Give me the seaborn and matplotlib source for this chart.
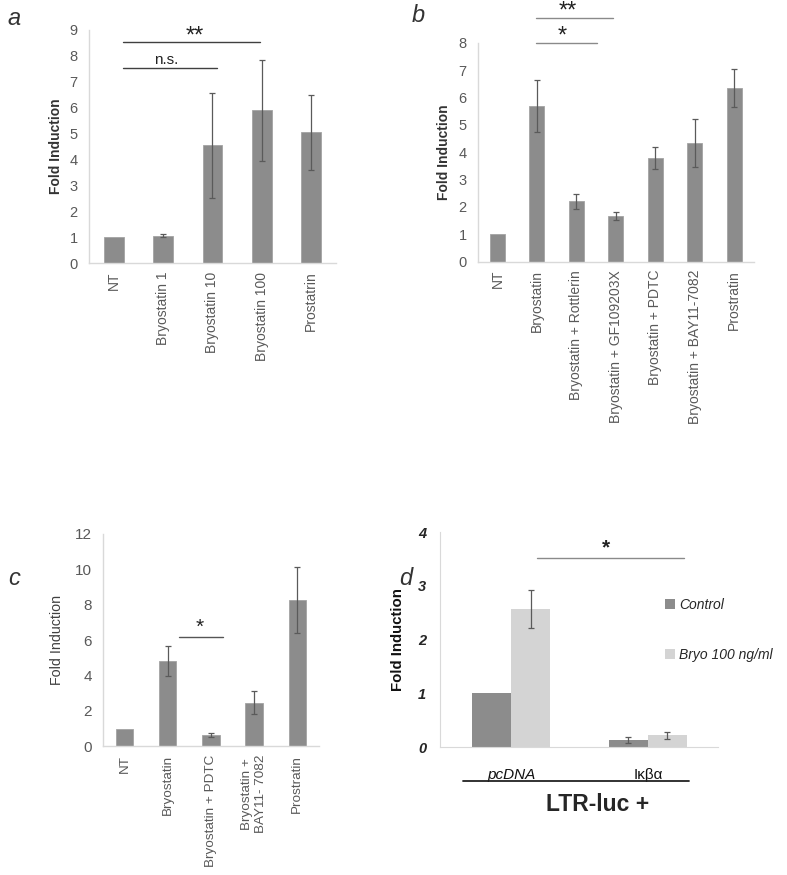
import numpy as np
import pandas as pd
import matplotlib
matplotlib.use("Agg")
import matplotlib.pyplot as plt
import seaborn as sns
from matplotlib.patches import Patch
from matplotlib.lines import Line2D

# --- данные ---
labels_a = ["NT", "Bryostatin 1", "Bryostatin 10", "Bryostatin 100", "Prostatrin"]
values_a = [1.0, 1.07, 4.55, 5.9, 5.05]
errors_a = [0.0, 0.05, 2.02, 1.95, 1.45]

labels_b = ["NT", "Bryostatin", "Bryostatin + Rottlerin", "Bryostatin + GF109203X",
            "Bryostatin + PDTC", "Bryostatin + BAY11-7082", "Prostratin"]
values_b = [1.0, 5.7, 2.2, 1.67, 3.8, 4.33, 6.35]
errors_b = [0.0, 0.95, 0.27, 0.13, 0.4, 0.87, 0.7]

labels_c = ["NT", "Bryostatin", "Bryostatin + PDTC", "Bryostatin +\nBAY11- 7082", "Prostratin"]
values_c = [1.0, 4.8, 0.65, 2.45, 8.25]
errors_c = [0.0, 0.85, 0.12, 0.65, 1.85]

groups_d = ["pcDNA", "Iκβα"]
treatments_d = ["Control", "Bryo 100 ng/ml"]
values_control_d = [1.0, 0.13]
values_bryo_d = [2.57, 0.22]
errors_control_d = [0.0, 0.06]
errors_bryo_d = [0.35, 0.06]

BAR = "#8c8c8c"
BAR_LIGHT = "#d4d4d4"
SPINE = "#d9d9d9"
TICK = "#595959"
ERR = "#5a5a5a"

sns.set_style("white")
plt.rcParams['font.family'] = ['Liberation Sans', 'DejaVu Sans']

fig = plt.figure(figsize=(7.87, 8.75), dpi=100)
ax_a = fig.add_axes([0.113, 0.699, 0.314, 0.267])
ax_b = fig.add_axes([0.607, 0.701, 0.351, 0.250])
ax_c = fig.add_axes([0.131, 0.147, 0.274, 0.243])
ax_d = fig.add_axes([0.559, 0.146, 0.353, 0.246])


def errbars(ax, xs, values, errors):
    xs = np.asarray(xs, dtype=float)
    err = np.asarray(errors, dtype=float)
    mask = err > 0
    ax.errorbar(xs[mask], np.asarray(values)[mask], yerr=err[mask], fmt="none",
                ecolor=ERR, elinewidth=0.9, capsize=2.5, capthick=0.9)


def simple_bars(ax, labels, values, errors, width, ymax, ystep, ytick_size, xtick_size, ylab_kw):
    df = pd.DataFrame({"cond": labels, "val": values})
    sns.barplot(data=df, x="cond", y="val", color=BAR, width=width, errorbar=None,
                saturation=1, edgecolor="#a3a3a3", linewidth=0.6, ax=ax)
    errbars(ax, np.arange(len(labels)), values, errors)
    ax.set_xlim(-0.5, len(labels) - 0.5)
    ax.set_ylim(0, ymax)
    ax.set_yticks(np.arange(0, ymax + 0.01, ystep))
    ax.set_xlabel("")
    ax.set_ylabel("Fold Induction", **ylab_kw)
    ax.tick_params(axis="x", rotation=90, labelsize=xtick_size, colors=TICK, length=0, pad=6)
    ax.tick_params(axis="y", labelsize=ytick_size, colors=TICK, length=0, pad=8)
    for s in ["top", "right"]:
        ax.spines[s].set_visible(False)
    for s in ["left", "bottom"]:
        ax.spines[s].set_color(SPINE)
        ax.spines[s].set_linewidth(1.0)


def sig(ax, x0, x1, y, text, tx, ty, color, size, weight="normal"):
    ax.plot([x0, x1], [y, y], color=color, lw=1.0, clip_on=False)
    ax.text(tx, ty, text, ha="center", va="center", fontsize=size, fontweight=weight,
            color="#222222", clip_on=False)


# --- a ---
simple_bars(ax_a, labels_a, values_a, errors_a, 0.4, 9, 1, 10.5, 10,
            dict(fontsize=10, fontweight="bold", color="#333333", labelpad=5))
sig(ax_a, 0.18, 2.97, 8.53, "**", 1.65, 8.75, "#404040", 17)
sig(ax_a, 0.18, 2.1, 7.53, "n.s.", 1.06, 7.85, "#404040", 11)

# --- b ---
simple_bars(ax_b, labels_b, values_b, errors_b, 0.38, 8, 1, 10.5, 10,
            dict(fontsize=10, fontweight="bold", color="#333333", labelpad=5))
sig(ax_b, 0.97, 2.93, 8.9, "**", 1.78, 9.15, "#8a8a8a", 17)
sig(ax_b, 0.97, 2.52, 8.0, "*", 1.65, 8.25, "#8a8a8a", 17)

# --- c ---
simple_bars(ax_c, labels_c, values_c, errors_c, 0.4, 12, 2, 11, 9.7,
            dict(fontsize=10.3, color="#404040", labelpad=8))
sig(ax_c, 1.27, 2.29, 6.2, "*", 1.73, 6.7, "#555555", 15)

# --- d ---
df_d = pd.DataFrame({
    "plasmid": groups_d * 2,
    "treat": [treatments_d[0]] * 2 + [treatments_d[1]] * 2,
    "val": values_control_d + values_bryo_d,
})
sns.barplot(data=df_d, x="plasmid", y="val", hue="treat", hue_order=treatments_d,
            palette=[BAR, BAR_LIGHT], width=0.57, errorbar=None, saturation=1,
            edgecolor="none", legend=False, ax=ax_d)
for cont, errs in zip(ax_d.containers, [errors_control_d, errors_bryo_d]):
    xs = [p.get_x() + p.get_width() / 2 for p in cont]
    hs = [p.get_height() for p in cont]
    errbars(ax_d, xs, hs, errs)
ax_d.set_xlim(-0.52, 1.51)
ax_d.set_ylim(0, 4)
ax_d.set_yticks(range(0, 5))
ax_d.set_xlabel("")
ax_d.set_ylabel("Fold Induction", fontsize=10.8, fontweight="bold", color="#111111", labelpad=9)
ax_d.tick_params(axis="y", labelsize=10.5, length=0, pad=10)
for t in ax_d.get_yticklabels():
    t.set_fontweight("bold")
    t.set_fontstyle("italic")
ax_d.tick_params(axis="x", length=0, labelsize=11, pad=15, colors="#111111")
xt = ax_d.get_xticklabels()
xt[0].set_fontstyle("italic")
for s in ["top", "right"]:
    ax_d.spines[s].set_visible(False)
for s in ["left", "bottom"]:
    ax_d.spines[s].set_color(SPINE)
sig(ax_d, 0.19, 1.26, 3.52, "*", 0.69, 3.7, "#8a8a8a", 15, weight="bold")
handles = [Patch(facecolor=c, edgecolor="none") for c in [BAR, BAR_LIGHT]]
ax_d.legend(handles, treatments_d, loc="upper left", bbox_to_anchor=(0.79, 0.72),
            frameon=False, handlelength=0.7, handleheight=0.7, handletextpad=0.3,
            labelspacing=2.6, borderaxespad=0,
            prop=dict(family="Liberation Sans", style="italic", size=10))
fig.add_artist(Line2D([0.588, 0.876], [0.107, 0.107], color="#222222", lw=1.3))
fig.text(0.759, 0.081, "LTR-luc +", ha="center", va="center", fontsize=16.5, fontweight="bold")

# --- буквы панелей ---
for lab, (px, py) in zip("abcd", [(0.010, 0.979), (0.523, 0.982), (0.010, 0.339), (0.507, 0.339)]):
    fig.text(px, py, lab, fontsize=17, fontstyle="italic", color="#333333",
             ha="left", va="center")

fig.savefig("out.png", dpi=100)
